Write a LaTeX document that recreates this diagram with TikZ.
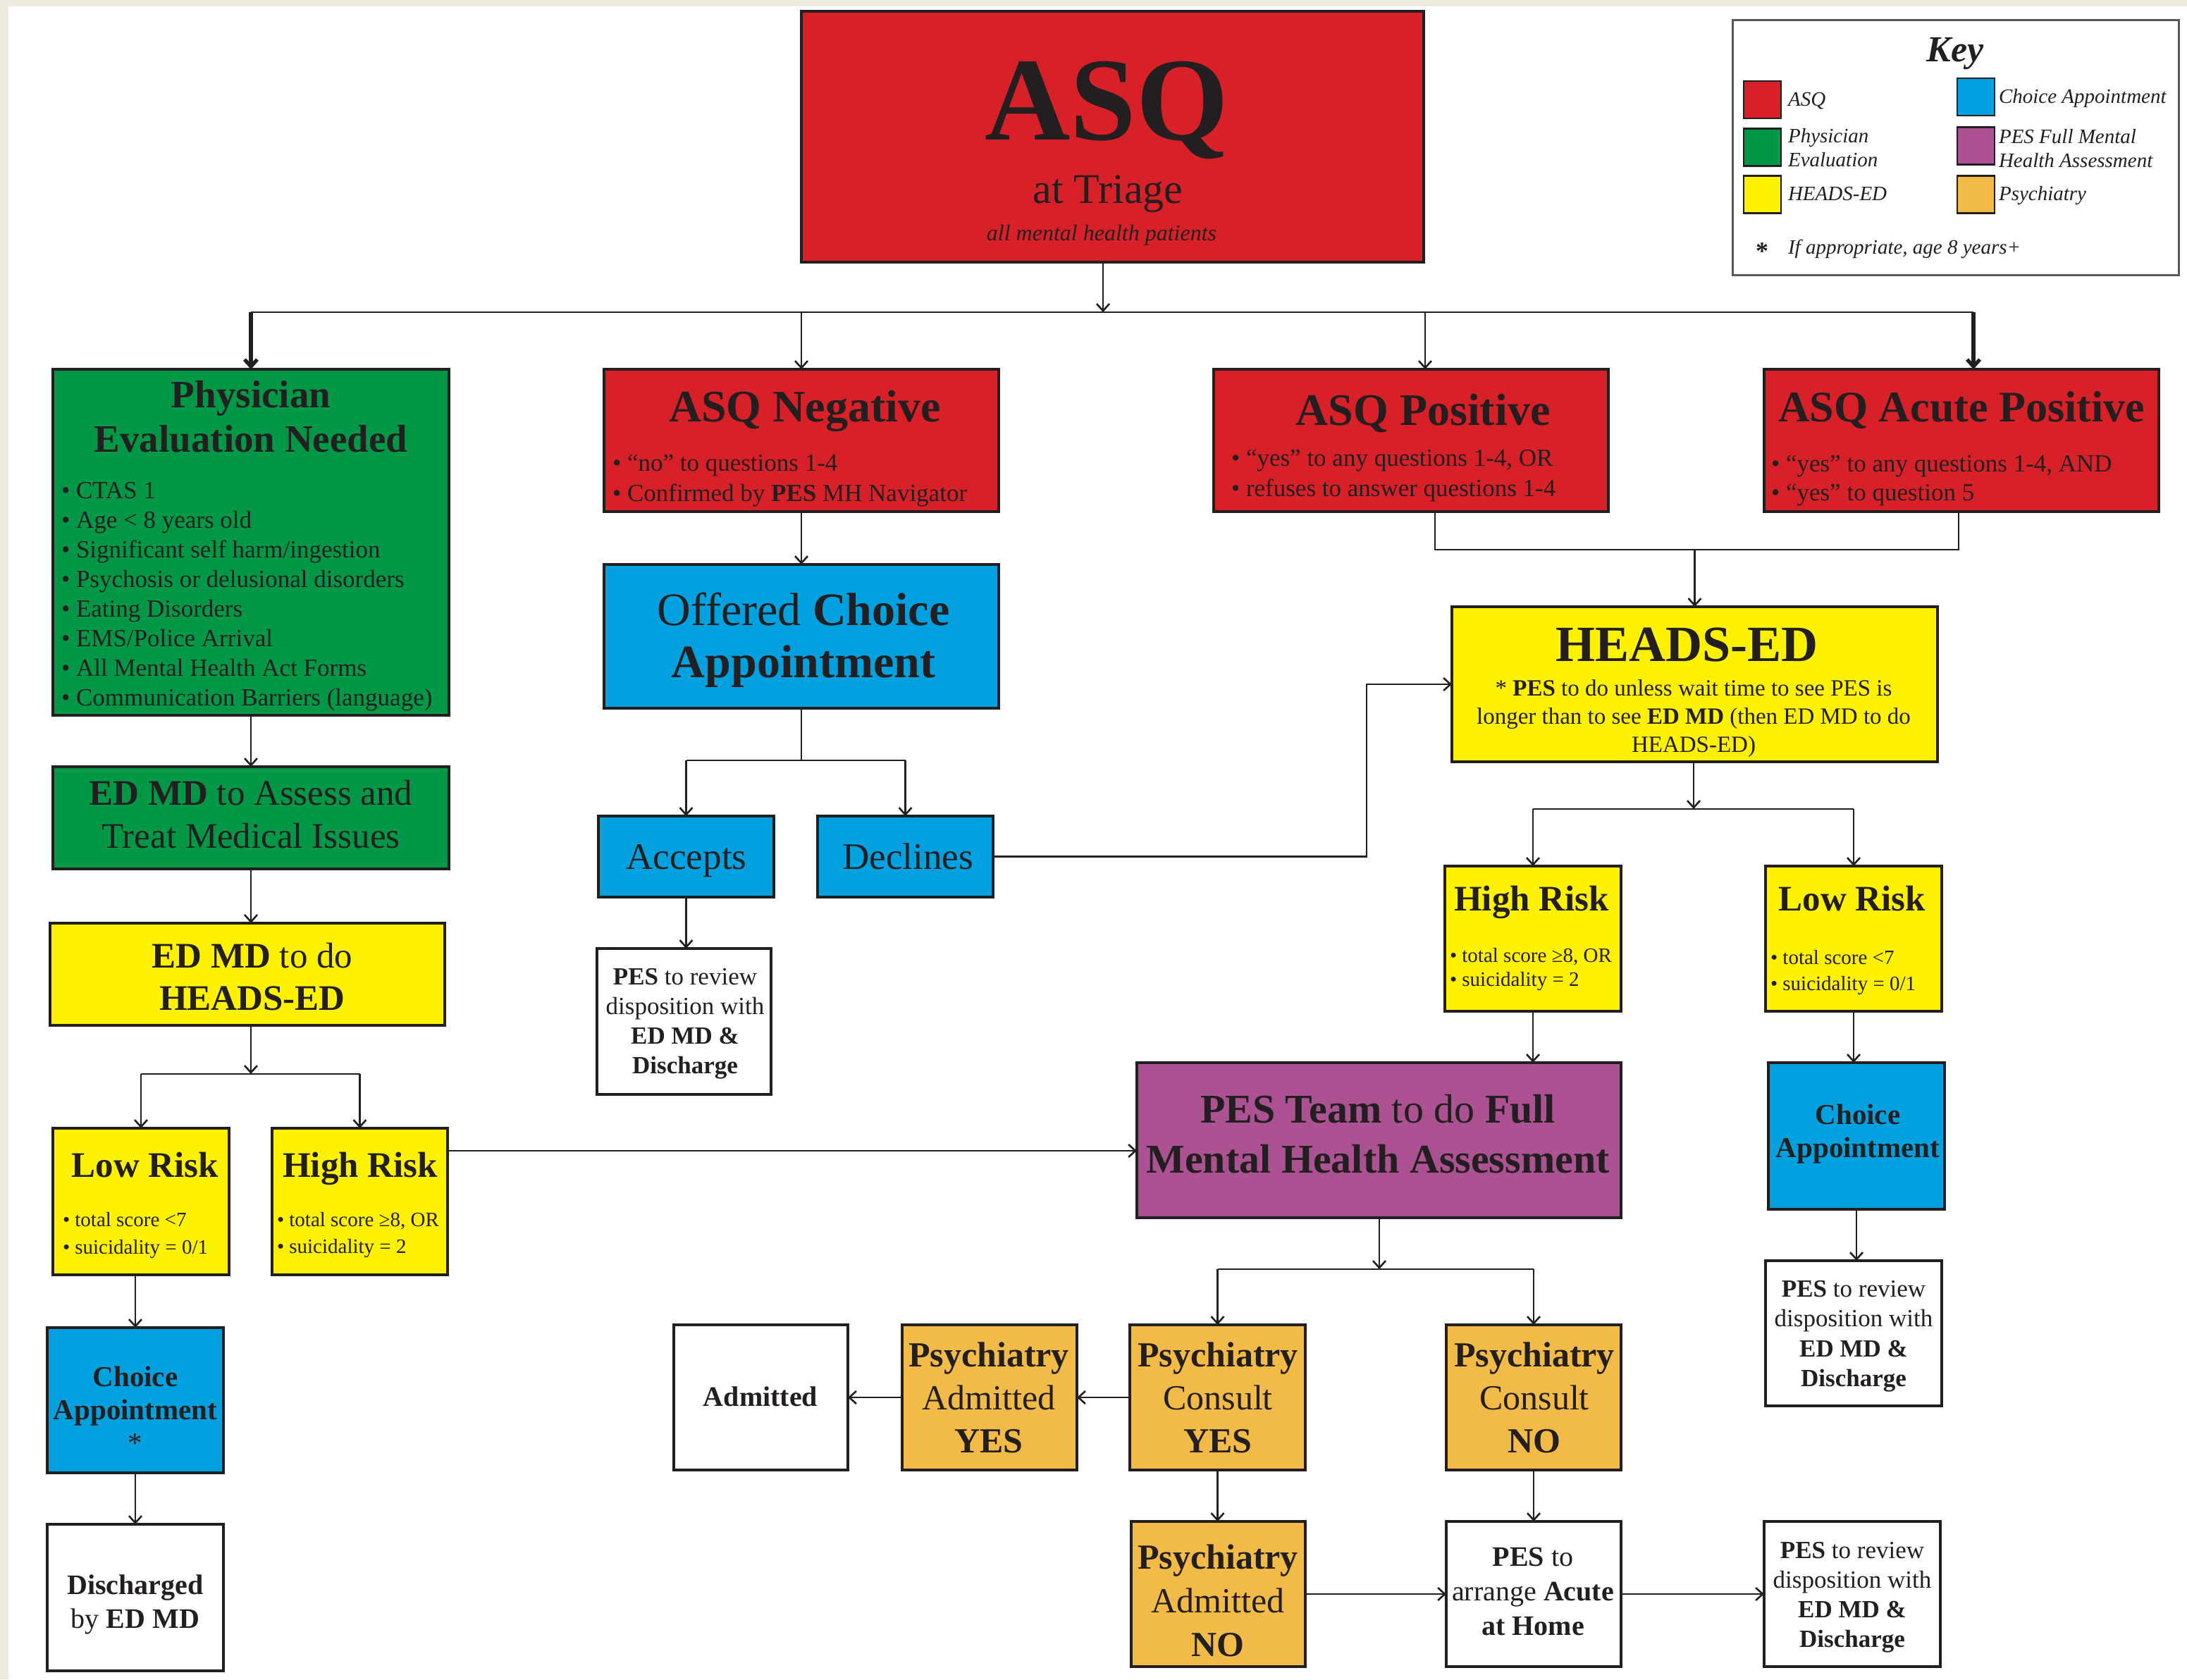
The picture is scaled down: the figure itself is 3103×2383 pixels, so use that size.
\documentclass[tikz,border=0pt]{standalone}
\usepackage{fontspec}
\setmainfont{Liberation Serif}
\usetikzlibrary{arrows.meta,calc}
\definecolor{cRed}{HTML}{D72028}
\definecolor{cGreen}{HTML}{009846}
\definecolor{cBlue}{HTML}{00A1DE}
\definecolor{cYellow}{HTML}{FFF200}
\definecolor{cPurple}{HTML}{AC5292}
\definecolor{cOrange}{HTML}{F2BA46}
\definecolor{cBeige}{HTML}{EDEBE0}
\definecolor{cInk}{HTML}{231F20}
\newcommand{\fs}[2]{\fontsize{#1}{#2}\selectfont}
\newcommand{\ctab}[1]{\begin{tabular}[t]{@{}c@{}}#1\end{tabular}}
\newcommand{\ltab}[1]{\begin{tabular}[t]{@{}l@{}}#1\end{tabular}}
\tikzset{
  box/.style={draw=cInk, line width=1.6pt, inner sep=0pt, outer sep=0pt, rectangle},
  sw/.style={draw=cInk, line width=1.4pt, inner sep=0pt, outer sep=0pt, minimum width=26.5pt, minimum height=26.5pt},
  txt/.style={inner sep=0pt, outer sep=0pt, text=cInk},
  ln/.style={draw=cInk, line width=1.3pt},
  arr/.style={draw=cInk, line width=1.3pt, -{Straight Barb[length=5pt,width=9pt]}},
  thk/.style={line width=2.6pt}
}
\begin{document}
\begin{tikzpicture}[x=0.5pt,y=-0.5pt]
\useasboundingbox (0,0) rectangle (3103,2383);
\fill[cBeige] (0,0) rectangle (3103,2383);
\fill[white] (12,9) rectangle (3103,2383);

% ---------- top ----------
\node[box, fill=cRed, minimum width=441.5pt, minimum height=178pt] (asq) at (1578.5,194) {};
\node[txt, anchor=base] (asqA) at (1570,198) {\fs{84}{92}\bfseries ASQ};
\node[txt, anchor=base] (asqB) at (1572,288) {\fs{30}{36}at Triage};
\node[txt, anchor=base] (asqC) at (1563,341) {\fs{16}{19}\itshape all mental health patients};

% ---------- key ----------
\node[box, draw=black!65, line width=1.5pt, fill=white, minimum width=316.5pt, minimum height=181pt] (key) at (2774.5,209) {};
\node[txt, anchor=base] (keyT) at (2774,87) {\fs{26}{30}\bfseries\itshape Key};
\node[sw, fill=cRed] (k1) at (2500.5,141.5) {};
\node[sw, fill=cGreen] (k2) at (2500.5,209) {};
\node[sw, fill=cYellow] (k3) at (2500.5,276) {};
\node[sw, fill=cBlue] (k4) at (2803.5,137.5) {};
\node[sw, fill=cPurple] (k5) at (2803.5,207) {};
\node[sw, fill=cOrange] (k6) at (2803.5,276) {};
\node[txt, anchor=base west] (kl1) at (2537,150) {\fs{14.5}{17}\itshape ASQ};
\node[txt, anchor=base west] (kl2) at (2537,202) {\fs{14.5}{17}\itshape\ltab{Physician\\Evaluation}};
\node[txt, anchor=base west] (kl3) at (2537,284) {\fs{14.5}{17}\itshape HEADS-ED};
\node[txt, anchor=base west] (kl4) at (2836,146) {\fs{14.5}{17}\itshape Choice Appointment};
\node[txt, anchor=base west] (kl5) at (2836,203) {\fs{14.5}{17}\itshape\ltab{PES Full Mental\\Health Assessment}};
\node[txt, anchor=base west] (kl6) at (2836,284) {\fs{14.5}{17}\itshape Psychiatry};
\node[txt, anchor=base] (kl7) at (2500,368) {\fs{18}{20}\bfseries *};
\node[txt, anchor=base west] (kl8) at (2537,360) {\fs{14.5}{17}\itshape If appropriate, age 8 years+};

% ---------- row 1 ----------
\node[box, fill=cGreen, minimum width=281pt, minimum height=245.5pt] (phys) at (356,769.5) {};
\node[txt, anchor=base] (physT) at (356,578) {\fs{27.5}{31.5}\bfseries\ctab{Physician\\Evaluation Needed}};
\node[txt, anchor=base west] (physB) at (87,707) {\fs{17.5}{21}\ltab{• CTAS 1\\• Age < 8 years old\\• Significant self harm/ingestion\\• Psychosis or delusional disorders\\• Eating Disorders\\• EMS/Police Arrival\\• All Mental Health Act Forms\\• Communication Barriers (language)}};

\node[box, fill=cRed, minimum width=280pt, minimum height=101pt] (neg) at (1137,625) {};
\node[txt, anchor=base] (negT) at (1142,598) {\fs{32}{36}\bfseries ASQ Negative};
\node[txt, anchor=base west] (negB) at (869,668) {\fs{17.5}{21.5}\ltab{• “no” to questions 1-4\\• Confirmed by \textbf{PES} MH Navigator}};

\node[box, fill=cRed, minimum width=280pt, minimum height=101pt] (pos) at (2002,625) {};
\node[txt, anchor=base] (posT) at (2019,603) {\fs{32}{36}\bfseries ASQ Positive};
\node[txt, anchor=base west] (posB) at (1747,661) {\fs{17.5}{21.5}\ltab{• “yes” to any questions 1-4, OR\\• refuses to answer questions 1-4}};

\node[box, fill=cRed, minimum width=280pt, minimum height=101pt] (acute) at (2783,625) {};
\node[txt, anchor=base] (acT) at (2783,598) {\fs{31}{36}\bfseries ASQ Acute Positive};
\node[txt, anchor=base west] (acB) at (2513,669) {\fs{17.5}{20.5}\ltab{• “yes” to any questions 1-4, AND\\• “yes” to question 5}};

% ---------- middle column ----------
\node[box, fill=cBlue, minimum width=280pt, minimum height=102pt] (offer) at (1137,903) {};
\node[txt, anchor=base] (offT) at (1140,887) {\fs{33}{37}\ctab{Offered \textbf{Choice}\\\textbf{Appointment}}};
\node[box, fill=cBlue, minimum width=124.5pt, minimum height=57.5pt] (acc) at (973.5,1215.5) {};
\node[txt, anchor=base] (accT) at (974,1233) {\fs{26.5}{30}Accepts};
\node[box, fill=cBlue, minimum width=124.5pt, minimum height=57.5pt] (dec) at (1284.5,1215.5) {};
\node[txt, anchor=base] (decT) at (1288,1233) {\fs{26.5}{30}Declines};
\node[box, fill=white, minimum width=123.5pt, minimum height=103.5pt] (rev1) at (970.5,1449.5) {};
\node[txt, anchor=base] (rev1T) at (972,1397) {\fs{17.5}{21}\ctab{\textbf{PES} to review\\disposition with\\\textbf{ED MD \&}\\\textbf{Discharge}}};

% ---------- HEADS-ED right ----------
\node[box, fill=cYellow, minimum width=344.5pt, minimum height=110pt] (heads) at (2404.5,971) {};
\node[txt, anchor=base] (hT) at (2393,938) {\fs{36}{40}\bfseries HEADS-ED};
\node[txt, anchor=base] (hB) at (2403,987) {\fs{16.5}{20}\ctab{* \textbf{PES} to do unless wait time to see PES is\\longer than to see \textbf{ED MD} (then ED MD to do\\HEADS-ED)}};

\node[box, fill=cYellow, minimum width=125pt, minimum height=103pt] (hrR) at (2175,1332) {};
\node[txt, anchor=base] (hrRT) at (2173,1292) {\fs{25.5}{30}\bfseries High Risk};
\node[txt, anchor=base west] (hrRB) at (2057,1365) {\fs{14.5}{17}\ltab{• total score ≥8, OR\\• suicidality = 2}};
\node[box, fill=cYellow, minimum width=125pt, minimum height=103pt] (lrR) at (2630,1332) {};
\node[txt, anchor=base] (lrRT) at (2628,1292) {\fs{25.5}{30}\bfseries Low Risk};
\node[txt, anchor=base west] (lrRB) at (2512,1368) {\fs{14.5}{18.5}\ltab{• total score <7\\• suicidality = 0/1}};

\node[box, fill=cPurple, minimum width=343.5pt, minimum height=110pt] (pes) at (1956.5,1618) {};
\node[txt, anchor=base] (pesT) at (1955,1593) {\fs{29}{35.5}\ctab{\textbf{PES Team} to do \textbf{Full}\\\textbf{Mental Health Assessment}}};

\node[box, fill=cBlue, minimum width=125pt, minimum height=104pt] (chR) at (2634,1612) {};
\node[txt, anchor=base] (chRT) at (2636,1595) {\fs{20.5}{23.5}\bfseries\ctab{Choice\\Appointment}};
\node[box, fill=white, minimum width=125pt, minimum height=103pt] (rev2) at (2630,1892) {};
\node[txt, anchor=base] (rev2T) at (2630,1840) {\fs{17.5}{21.25}\ctab{\textbf{PES} to review\\disposition with\\\textbf{ED MD \&}\\\textbf{Discharge}}};

% ---------- psychiatry row ----------
\node[box, fill=cOrange, minimum width=124.5pt, minimum height=103pt] (pcy) at (1727.5,1983) {};
\node[txt, anchor=base] (pcyT) at (1728,1939) {\fs{25}{30.5}\ctab{\textbf{Psychiatry}\\Consult\\\textbf{YES}}};
\node[box, fill=cOrange, minimum width=124pt, minimum height=103pt] (pcn) at (2176,1983) {};
\node[txt, anchor=base] (pcnT) at (2177,1939) {\fs{25}{30.5}\ctab{\textbf{Psychiatry}\\Consult\\\textbf{NO}}};
\node[box, fill=cOrange, minimum width=124pt, minimum height=103pt] (pay) at (1404,1983) {};
\node[txt, anchor=base] (payT) at (1403,1939) {\fs{25}{30.5}\ctab{\textbf{Psychiatry}\\Admitted\\\textbf{YES}}};
\node[box, fill=white, minimum width=123.5pt, minimum height=103pt] (adm) at (1079.5,1983) {};
\node[txt, anchor=base] (admT) at (1079,1995) {\fs{20}{24}\bfseries Admitted};
\node[box, fill=cOrange, minimum width=123.5pt, minimum height=103pt] (pan) at (1728.5,2262) {};
\node[txt, anchor=base] (panT) at (1728,2226) {\fs{25}{31}\ctab{\textbf{Psychiatry}\\Admitted\\\textbf{NO}}};
\node[box, fill=white, minimum width=124pt, minimum height=103pt] (arrg) at (2176,2262) {};
\node[txt, anchor=base] (arrgT) at (2175,2222) {\fs{20}{24.5}\ctab{\textbf{PES} to\\arrange \textbf{Acute}\\\textbf{at Home}}};
\node[box, fill=white, minimum width=125pt, minimum height=103pt] (rev3) at (2628,2262) {};
\node[txt, anchor=base] (rev3T) at (2628,2211) {\fs{17.5}{21}\ctab{\textbf{PES} to review\\disposition with\\\textbf{ED MD \&}\\\textbf{Discharge}}};

% ---------- left column ----------
\node[box, fill=cGreen, minimum width=281pt, minimum height=72.5pt] (edmd) at (356,1160.5) {};
\node[txt, anchor=base] (edmdT) at (356,1142) {\fs{25.5}{30.5}\ctab{\textbf{ED MD} to Assess and\\Treat Medical Issues}};
\node[box, fill=cYellow, minimum width=280pt, minimum height=72.5pt] (edh) at (351,1382.5) {};
\node[txt, anchor=base] (edhT) at (358,1373) {\fs{25.5}{30}\ctab{\textbf{ED MD} to do\\\textbf{HEADS-ED}}};
\node[box, fill=cYellow, minimum width=125pt, minimum height=104pt] (lrL) at (200,1705) {};
\node[txt, anchor=base] (lrLT) at (206,1670) {\fs{25.5}{30}\bfseries Low Risk};
\node[txt, anchor=base west] (lrLB) at (89,1740) {\fs{14.5}{19.5}\ltab{• total score <7\\• suicidality = 0/1}};
\node[box, fill=cYellow, minimum width=124.5pt, minimum height=104pt] (hrL) at (510.5,1705) {};
\node[txt, anchor=base] (hrLT) at (511,1670) {\fs{25.5}{30}\bfseries High Risk};
\node[txt, anchor=base west] (hrLB) at (393,1740) {\fs{14.5}{19}\ltab{• total score ≥8, OR\\• suicidality = 2}};
\node[box, fill=cBlue, minimum width=125pt, minimum height=103pt] (chL) at (192,1987) {};
\node[txt, anchor=base] (chLT) at (192,1967) {\fs{20.5}{23.5}\bfseries\ctab{Choice\\Appointment\\\mdseries *}};
\node[box, fill=white, minimum width=125pt, minimum height=104pt] (dis) at (192,2267) {};
\node[txt, anchor=base] (disT) at (192,2262) {\fs{20}{24}\ctab{\textbf{Discharged}\\by \textbf{ED MD}}};

% ---------- connectors ----------
\coordinate (b0) at (1565,443);
\coordinate (bL) at (356,443);
\coordinate (bR) at (2800,443);
\coordinate (bP) at (2022,443);
\draw[arr] (asq.south -| b0) -- (b0);
\draw[ln] (bL) -- (bR);
\draw[arr, thk] (bL) -- (phys.north);
\draw[arr] (neg.north |- bL) -- (neg.north);
\draw[arr] (bP) -- (bP |- pos.north);
\draw[arr, thk] (bR) -- (bR |- acute.north);

\draw[arr] (neg.south) -- (offer.north);
\coordinate (ob) at (1137,1079);
\draw[ln] (offer.south) -- (offer.south |- ob);
\draw[ln] (ob -| acc.north) -- (ob -| dec.north);
\draw[arr] (ob -| acc.north) -- (acc.north);
\draw[arr] (ob -| dec.north) -- (dec.north);
\draw[arr] (acc.south) -- (acc.south |- rev1.north);
\coordinate (dx) at (1939,1219);
\draw[arr] (dec.east) -- (dec.east -| dx) |- (heads.west);

\coordinate (pm) at (2036,780);
\coordinate (am) at (2779,780);
\draw[ln] (pos.south -| pm) -- (pm) -- (am) -- (acute.south -| am);
\draw[arr] (heads.north |- pm) -- (heads.north);

\coordinate (hb) at (2403,1148);
\draw[arr] (heads.south -| hb) -- (hb);
\draw[ln] (hb -| hrR.north) -- (hb -| lrR.north);
\draw[arr] (hb -| hrR.north) -- (hrR.north);
\draw[arr] (hb -| lrR.north) -- (lrR.north);
\draw[arr] (hrR.south) -- (hrR.south |- pes.north);
\draw[arr] (lrR.south) -- (lrR.south |- chR.north);
\draw[arr] (chR.south) -- (chR.south |- rev2.north);

\coordinate (pb) at (1957,1801);
\draw[arr] (pes.south -| pb) -- (pb);
\draw[ln] (pb -| pcy.north) -- (pb -| pcn.north);
\draw[arr] (pb -| pcy.north) -- (pcy.north);
\draw[arr] (pb -| pcn.north) -- (pcn.north);
\draw[arr] (pcy.west) -- (pay.east);
\draw[arr] (pay.west) -- (adm.east);
\draw[arr] (pcy.south) -- (pcy.south |- pan.north);
\draw[arr] (pcn.south) -- (pcn.south |- arrg.north);
\draw[arr] (pan.east) -- (arrg.west);
\draw[arr] (arrg.east) -- (rev3.west);

\draw[arr] (phys.south) -- (edmd.north);
\draw[arr] (edmd.south) -- (edmd.south |- edh.north);
\coordinate (lb) at (356,1524);
\draw[arr] (edh.south -| lb) -- (lb);
\draw[ln] (lb -| lrL.north) -- (lb -| hrL.north);
\draw[arr] (lb -| lrL.north) -- (lrL.north);
\draw[arr] (lb -| hrL.north) -- (hrL.north);
\coordinate (hp) at (0,1633);
\draw[arr] (hrL.east |- hp) -- (pes.west |- hp);
\draw[arr] (lrL.south -| chL.north) -- (chL.north);
\draw[arr] (chL.south) -- (dis.north);
\end{tikzpicture}
\end{document}
